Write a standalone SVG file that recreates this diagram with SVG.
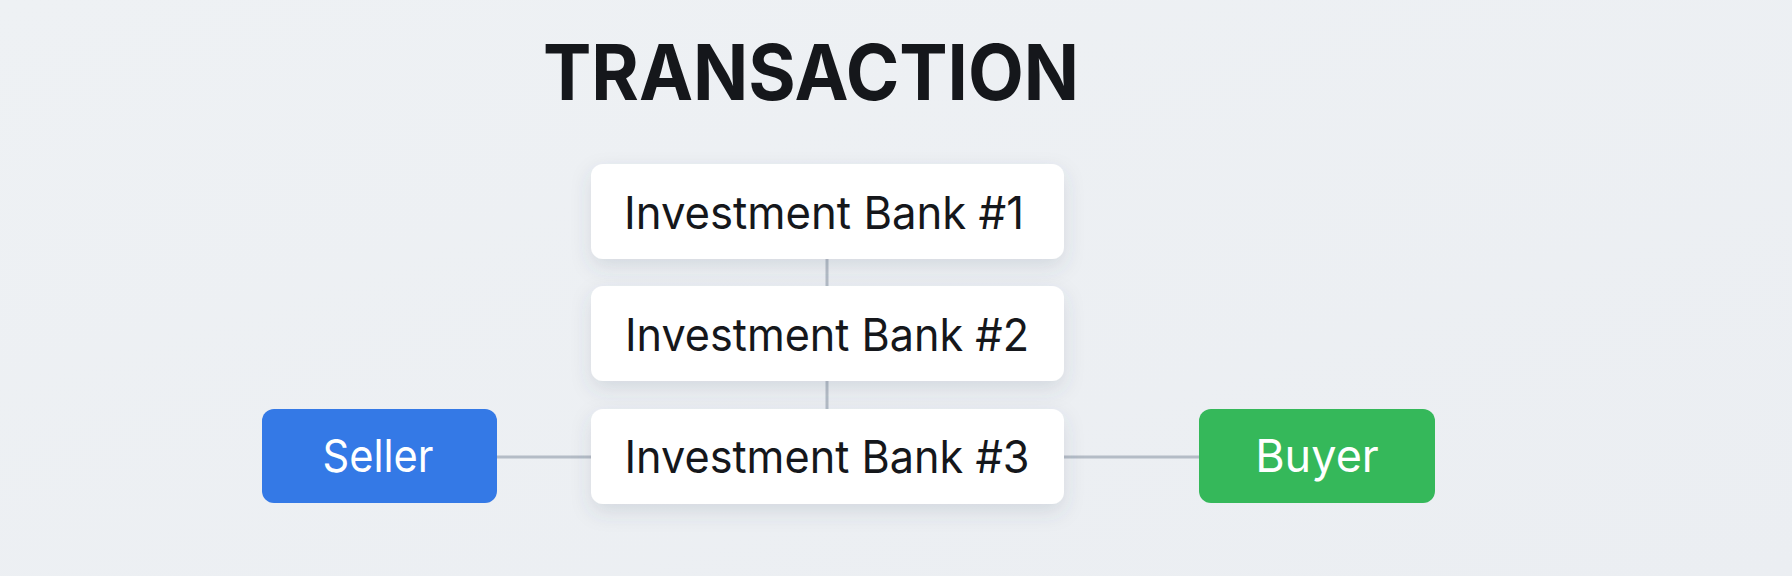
<svg xmlns="http://www.w3.org/2000/svg" width="1792" height="576" viewBox="0 0 1792 576">
  <defs>
    <style>
      .title { font-family: Inter, "Liberation Sans", sans-serif; font-weight: 700; font-size: 77px; fill: #15171b; }
      .lbl { font-family: Inter, "Liberation Sans", sans-serif; font-size: 45px; text-anchor: middle; }
      .dark { fill: #15171b; }
      .light { fill: #ffffff; }
      .bank { fill: #ffffff; }
      .conn { stroke: #b4bcc6; stroke-width: 3; fill: none; }
    </style>
    <filter id="shadow" x="-20%" y="-30%" width="140%" height="180%">
      <feDropShadow dx="0" dy="8" stdDeviation="10" flood-color="#4a5568" flood-opacity="0.14"/>
    </filter>
    <linearGradient id="bg" x1="0" y1="0" x2="1" y2="1">
      <stop offset="0" stop-color="#eef1f4"/>
      <stop offset="1" stop-color="#ebeef2"/>
    </linearGradient>
  </defs>
  <rect x="0" y="0" width="1792" height="576" fill="url(#bg)"/>
  <text class="title" x="543" y="100" textLength="536" lengthAdjust="spacingAndGlyphs">TRANSACTION</text>

  <g id="connectors">
    <line class="conn" x1="827" y1="258" x2="827" y2="287"/>
    <line class="conn" x1="827" y1="380" x2="827" y2="410"/>
    <line class="conn" x1="497" y1="457" x2="591" y2="457"/>
    <line class="conn" x1="1064" y1="457" x2="1199" y2="457"/>
  </g>

  <g id="bank1">
    <rect class="bank" x="591" y="164" width="473" height="95" rx="12" filter="url(#shadow)"/>
    <text class="lbl dark" x="824" y="229" textLength="400" lengthAdjust="spacingAndGlyphs">Investment Bank #1</text>
  </g>
  <g id="bank2">
    <rect class="bank" x="591" y="286" width="473" height="95" rx="12" filter="url(#shadow)"/>
    <text class="lbl dark" x="827" y="351" textLength="404" lengthAdjust="spacingAndGlyphs">Investment Bank #2</text>
  </g>
  <g id="bank3">
    <rect class="bank" x="591" y="409" width="473" height="95" rx="12" filter="url(#shadow)"/>
    <text class="lbl dark" x="827" y="473" textLength="405" lengthAdjust="spacingAndGlyphs">Investment Bank #3</text>
  </g>
  <g id="seller">
    <rect x="262" y="409" width="235" height="94" rx="12" fill="#3479e6"/>
    <text class="lbl light" x="378" y="472" textLength="111" lengthAdjust="spacingAndGlyphs">Seller</text>
  </g>
  <g id="buyer">
    <rect x="1199" y="409" width="236" height="94" rx="12" fill="#35b85a"/>
    <text class="lbl light" x="1317" y="472">Buyer</text>
  </g>
</svg>
